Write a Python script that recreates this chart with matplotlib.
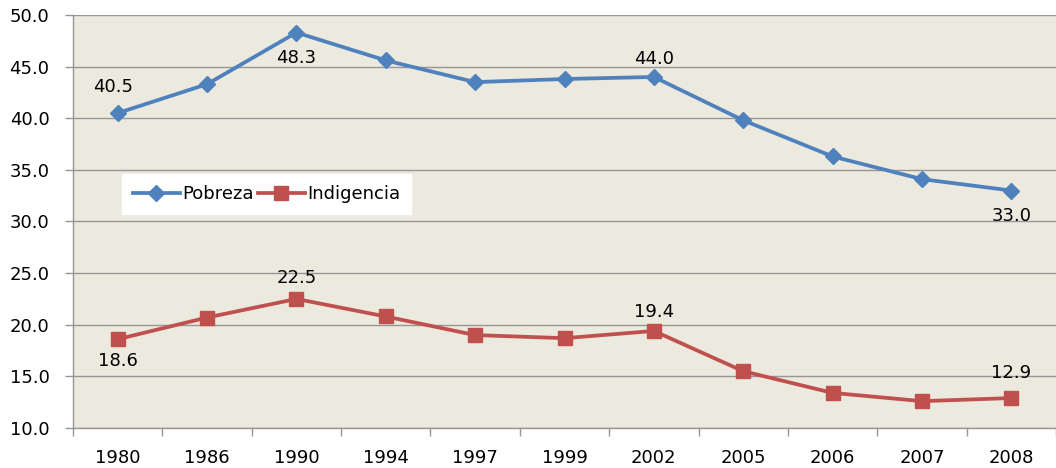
import numpy as np
import matplotlib.pyplot as plt

years = ['1980', '1986', '1990', '1994', '1997', '1999', '2002', '2005', '2006', '2007', '2008']
pobreza = [40.5, 43.3, 48.3, 45.6, 43.5, 43.8, 44.0, 39.8, 36.3, 34.1, 33.0]
indigencia = [18.6, 20.7, 22.5, 20.8, 19.0, 18.7, 19.4, 15.5, 13.4, 12.6, 12.9]

# labelled points: index -> (dx, dy) offset in points
pob_labels = {0: (-3, 19), 2: (0, -18), 6: (0, 13), 10: (0, -18)}
ind_labels = {0: (0, -16), 2: (0, 15), 6: (0, 14), 10: (0, 18)}

blue = '#4F81BD'
red = '#C0504D'
grey = '#969696'
fs = 13

fig = plt.figure(figsize=(10.56, 4.68), dpi=100)
ax = fig.add_axes([73 / 1056, 40 / 468, 983 / 1056, 413 / 468])
ax.set_facecolor('#ECE9DF')

x = np.arange(len(years))
ax.plot(x, pobreza, color=blue, lw=2.7, marker='D', ms=8.5, label='Pobreza', zorder=3)
ax.plot(x, indigencia, color=red, lw=2.7, marker='s', ms=9.5, label='Indigencia', zorder=3)

for i, (dx, dy) in pob_labels.items():
    ax.annotate(f'{pobreza[i]:.1f}', (x[i], pobreza[i]), xytext=(dx, dy),
                textcoords='offset points', ha='center', va='center', fontsize=fs)
for i, (dx, dy) in ind_labels.items():
    ax.annotate(f'{indigencia[i]:.1f}', (x[i], indigencia[i]), xytext=(dx, dy),
                textcoords='offset points', ha='center', va='center', fontsize=fs)

ax.set_ylim(10, 50)
ax.set_yticks(np.arange(10, 51, 5))
ax.set_yticklabels([f'{v:.1f}' for v in np.arange(10, 51, 5)])
ax.set_xlim(-0.5, len(years) - 0.5)
ax.set_xticks(x)
ax.set_xticklabels(years)
ax.set_xticks(np.arange(-0.5, len(years), 1), minor=True)
ax.tick_params(axis='x', which='major', length=0, pad=15, labelsize=fs)
ax.tick_params(axis='x', which='minor', length=6, color=grey, width=1)
ax.tick_params(axis='y', length=6, color=grey, width=1, pad=11, labelsize=fs)

ax.grid(axis='y', color=grey, lw=1)
ax.set_axisbelow(True)
for s in ['top', 'right']:
    ax.spines[s].set_visible(False)
for s in ['left', 'bottom']:
    ax.spines[s].set_color(grey)
    ax.spines[s].set_linewidth(1)

leg = ax.legend(loc='upper left', bbox_to_anchor=(49 / 983, 254 / 413), ncol=2,
                frameon=True, fancybox=False, fontsize=fs, handlelength=2.6,
                handletextpad=0.15, columnspacing=0.2, borderpad=0.6,
                borderaxespad=0)
leg.get_frame().set_facecolor('white')
leg.get_frame().set_edgecolor('white')
leg.get_frame().set_alpha(1)

fig.savefig('out.png', dpi=100)
